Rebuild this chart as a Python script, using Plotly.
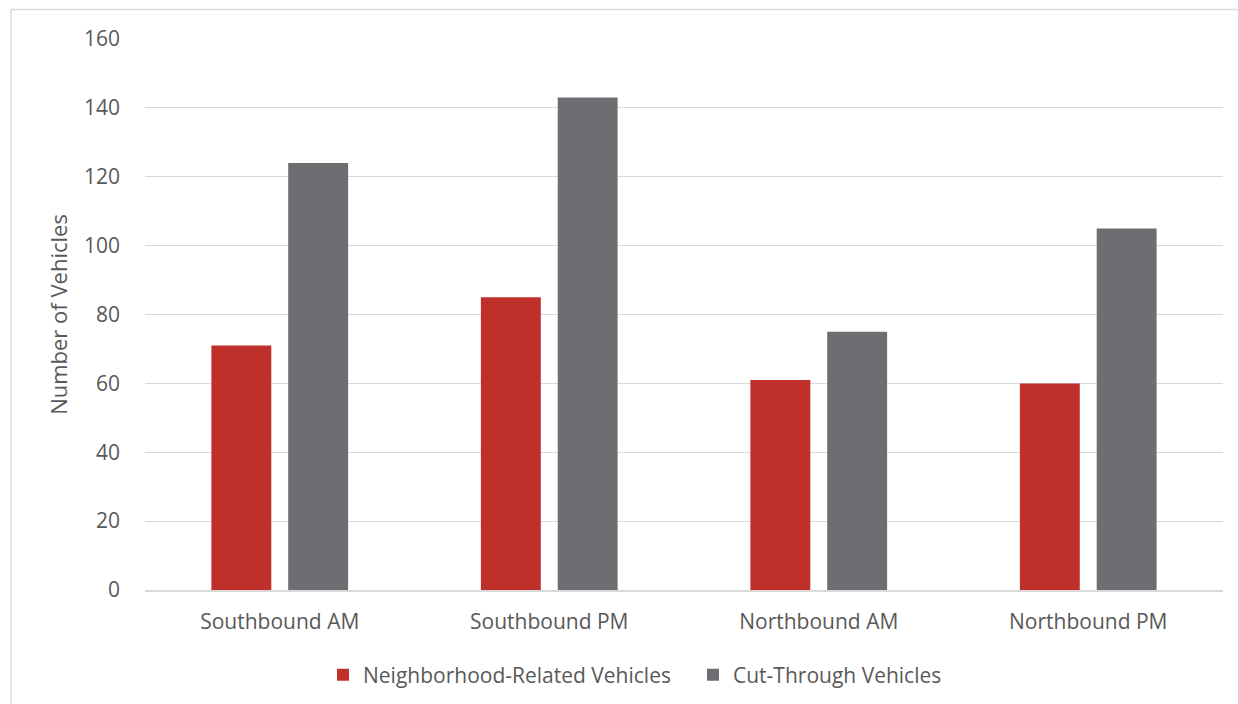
import plotly.graph_objects as go

categories = ["Southbound AM", "Southbound PM", "Northbound AM", "Northbound PM"]
neighborhood = [71, 85, 61, 60]
cut_through = [124, 143, 75, 105]
y_ticks = [0, 20, 40, 60, 80, 100, 120, 140, 160]

W, H = 1238, 704
L, R, T, B = 145, 15, 39, 114
pw, ph = W - L - R, H - T - B

def px_x(x):
    return (x - L) / pw

def px_y(y):
    return (H - B - y) / ph

font = "Open Sans, Calibri, sans-serif"
txt = "#595959"

fig = go.Figure()
fig.add_bar(x=categories, y=neighborhood, name="Neighborhood-Related Vehicles",
            marker=dict(color="#C0302B", line=dict(width=0)))
fig.add_bar(x=categories, y=cut_through, name="Cut-Through Vehicles",
            marker=dict(color="#6D6E71", line=dict(width=0)))

fig.update_layout(
    width=W, height=H,
    margin=dict(l=L, r=R, t=T, b=B, pad=0, autoexpand=False),
    paper_bgcolor="white", plot_bgcolor="white",
    barmode="group", bargap=0.43, bargroupgap=0.22,
    font=dict(family=font, size=21, color=txt),
    showlegend=True,
    legend=dict(orientation="h", x=px_x(323), xanchor="left", y=px_y(675), yanchor="middle",
                font=dict(size=21, color=txt), itemwidth=30, traceorder="normal",
                entrywidth=325, entrywidthmode="pixels"),
    xaxis=dict(showgrid=False, showline=True, linecolor="#d9d9d9", linewidth=1.5,
               ticks="", ticklabelstandoff=12, tickfont=dict(size=21, color=txt)),
    yaxis=dict(range=[0, 160], tickvals=y_ticks, showgrid=True, gridcolor="#d9d9d9",
               gridwidth=1.3, zeroline=False, showline=False, ticks="",
               ticklabelstandoff=24, tickfont=dict(size=21, color=txt),
               title=dict(text="Number of Vehicles", standoff=10,
                          font=dict(size=22, color=txt))),
)

# chart frame (partially visible border)
fig.add_shape(type="line", xref="paper", yref="paper",
              x0=px_x(11), x1=px_x(1240), y0=px_y(9.5), y1=px_y(9.5),
              line=dict(color="#d9d9d9", width=1.5))
fig.add_shape(type="line", xref="paper", yref="paper",
              x0=px_x(11), x1=px_x(11), y0=px_y(9.5), y1=px_y(710),
              line=dict(color="#d9d9d9", width=1.5))

fig.write_html("out.html")
